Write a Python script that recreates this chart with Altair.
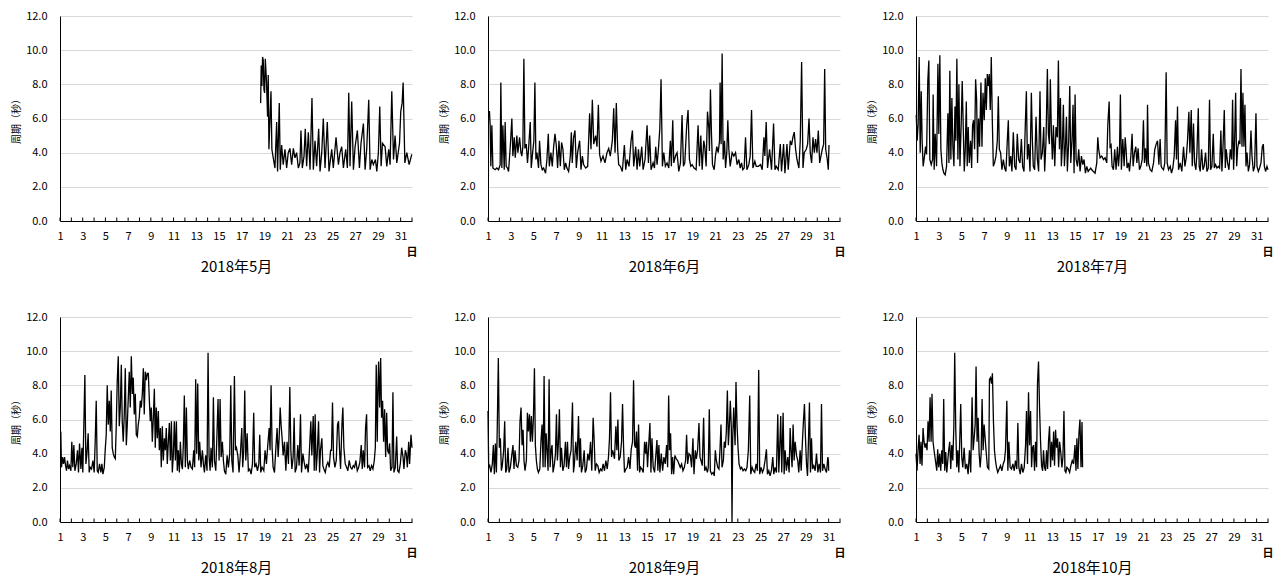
import altair as alt
import pandas as pd

FONT = "Noto Sans CJK JP"
titles = ["2018年5月", "2018年6月", "2018年7月", "2018年8月", "2018年9月", "2018年10月"]
y_ticks = [0, 2, 4, 6, 8, 10, 12]
x_labels = list(range(1, 32, 2))
tick_days = list(range(1, 33))
unit_label = "日"
y_title = "周期（秒）"

may_day = [18.67,18.72,18.78,18.84,18.90,18.96,19.02,19.08,19.19,19.28,
19.34,19.40,19.49,19.58,19.66,19.78,19.93,20.08,20.16,20.31,
20.40,20.52,20.66,20.81,20.96,21.10,21.25,21.40,21.55,21.69,
21.84,21.99,22.13,22.22,22.34,22.49,22.60,22.72,22.87,23.02,
23.19,23.31,23.46,23.60,23.78,23.90,24.05,24.19,24.34,24.54,
24.69,24.93,25.07,25.31,25.52,25.66,25.81,25.96,26.16,26.31,
26.43,26.54,26.69,26.84,26.99,27.19,27.37,27.51,27.72,27.87,
28.01,28.19,28.31,28.46,28.60,28.78,28.90,29.04,29.16,29.28,
29.40,29.63,29.78,29.95,30.07,30.22,30.37,30.51,30.66,30.90,
31.01,31.13,31.22,31.37,31.54,31.75,31.98]
may_val = [6.9,9.1,7.9,9.6,9.4,7.7,7.5,9.5,8.1,6.1,
8.55,4.2,5.9,7.6,4.2,3.7,3.1,5.8,2.9,6.9,
3.0,4.45,3.3,4.2,3.1,4.0,4.25,3.3,4.25,3.7,
4.0,3.1,3.4,5.3,3.1,3.8,5.4,3.2,5.2,3.0,
7.2,3.0,4.7,3.2,5.4,2.9,4.0,6.0,3.1,5.8,
2.9,4.2,3.1,4.9,3.3,4.0,4.35,3.1,4.2,3.1,
7.5,3.2,7.0,3.0,4.35,5.3,3.1,4.55,5.7,3.0,
4.2,7.1,3.0,3.6,3.3,3.6,2.9,4.0,6.7,3.2,
4.55,4.35,3.2,4.2,3.3,7.6,3.6,5.0,3.4,4.55,
6.4,6.9,8.1,3.4,4.0,3.3,3.9]

jun_day = [1.04,1.13,1.19,1.25,1.34,1.43,1.63,1.78,1.93,2.07,
2.13,2.22,2.31,2.43,2.51,2.60,2.72,2.81,2.96,3.10,
3.19,3.31,3.40,3.54,3.63,3.78,3.90,3.98,4.07,4.16,
4.25,4.37,4.48,4.57,4.72,4.81,4.93,5.04,5.13,5.22,
5.31,5.45,5.54,5.66,5.78,5.90,6.07,6.19,6.31,6.40,
6.54,6.66,6.78,6.90,7.01,7.13,7.25,7.37,7.48,7.60,
7.72,7.84,7.95,8.10,8.25,8.34,8.42,8.54,8.66,8.78,
8.89,9.07,9.19,9.31,9.42,9.60,9.78,9.95,10.07,10.19,
10.31,10.48,10.60,10.72,10.83,10.95,11.13,11.30,11.48,11.63,
11.77,11.95,12.07,12.19,12.30,12.42,12.51,12.66,12.83,13.01,
13.13,13.25,13.42,13.60,13.72,13.83,14.01,14.13,14.25,14.36,
14.54,14.66,14.83,15.01,15.13,15.24,15.36,15.54,15.66,15.77,
15.89,16.01,16.13,16.24,16.36,16.48,
16.62,16.77,16.92,17.06,17.15,17.27,17.36,17.51,17.65,17.80,
17.95,18.09,18.21,18.33,18.50,18.62,18.74,18.86,18.98,19.15,
19.33,19.50,19.62,19.74,19.86,20.00,20.09,20.21,20.33,20.45,
20.50,20.59,20.68,20.77,20.92,21.03,21.15,21.27,21.39,21.44,
21.53,21.62,21.71,21.83,21.92,22.03,22.12,22.21,22.33,22.50,
22.65,22.80,22.94,23.09,23.21,23.33,23.44,23.56,23.68,23.80,
23.97,24.09,24.21,24.33,24.50,24.62,24.80,25.00,25.15,25.30,
25.38,25.50,25.62,25.80,25.97,26.15,26.27,26.38,26.56,26.74,
26.85,27.03,27.15,27.33,27.44,27.62,27.74,27.85,27.97,28.09,
28.21,28.38,28.50,28.62,28.74,28.85,29.03,29.15,29.27,29.38,
29.50,29.62,29.74,29.85,29.97,30.09,30.21,30.32,30.44,30.56,
30.65,30.74,30.88,30.97,31.03]
jun_val = [6.4,6.4,5.6,3.2,5.6,3.1,3.0,3.1,3.0,3.3,
8.1,3.1,5.6,3.0,5.8,3.2,3.1,2.9,4.35,6.0,
3.8,4.9,3.7,5.0,4.0,4.9,4.0,3.8,4.35,9.5,
4.25,4.5,3.4,4.2,5.8,3.1,4.0,4.7,8.1,3.6,
4.0,3.1,4.7,3.3,3.0,3.1,2.8,3.6,5.1,3.2,
4.0,3.2,4.35,5.1,4.45,3.1,4.7,3.2,4.6,4.2,
3.0,3.4,3.1,2.9,3.8,5.2,3.4,4.9,5.3,3.1,
4.0,4.7,3.0,3.8,3.3,3.1,3.2,6.3,4.2,7.1,
4.5,5.0,4.35,6.8,3.9,3.5,3.8,3.4,4.0,4.25,
3.8,4.7,6.6,4.0,6.9,4.2,3.3,3.2,2.9,4.45,
3.0,3.6,3.2,4.7,5.3,3.2,4.35,3.0,4.2,3.2,
4.35,3.0,3.6,5.6,3.4,5.0,3.0,3.4,3.1,4.35,
3.3,4.2,5.4,8.3,3.2,4.0,
3.2,3.4,3.1,4.7,3.2,5.9,3.4,3.8,4.0,2.9,
3.4,6.2,3.2,3.4,5.6,6.5,3.6,3.2,3.3,3.1,
3.0,5.6,3.2,5.0,3.0,4.7,4.35,3.2,6.4,5.4,
4.1,7.7,5.1,3.3,3.0,3.8,4.35,4.0,4.7,8.1,
4.5,9.8,3.6,4.7,3.1,4.0,5.9,4.2,3.2,4.0,
3.8,4.0,3.3,3.6,3.1,3.4,3.0,3.1,4.9,3.0,
3.3,3.8,6.5,3.1,3.5,3.2,3.2,3.3,3.0,4.9,
3.8,5.8,3.1,4.2,3.0,5.7,3.0,3.2,3.0,4.5,
2.9,4.5,2.8,4.5,3.0,4.7,4.45,4.9,5.2,4.2,
3.6,3.1,4.7,9.3,3.1,4.0,4.2,4.5,6.0,4.0,
3.4,4.9,4.0,4.8,4.0,5.3,3.4,3.8,4.2,4.5,
8.9,4.2,3.6,3.0,4.45]

jul_day = [1.02,1.10,1.19,1.28,1.37,1.46,1.54,1.63,1.75,1.84,
1.93,2.04,2.13,2.22,2.34,2.46,2.51,2.60,2.69,2.81,
2.93,3.01,3.10,3.19,3.28,3.37,3.46,3.57,3.69,3.81,
3.90,3.98,4.07,4.16,4.25,4.34,4.43,4.51,4.60,4.69,
4.78,4.87,4.98,5.07,5.16,5.25,5.34,5.43,5.51,5.60,
5.69,5.81,5.90,5.98,6.07,6.16,6.25,6.34,6.42,6.51,
6.60,6.72,6.81,6.90,7.01,7.10,7.19,7.28,7.37,7.45,
7.54,7.63,7.72,7.81,7.92,8.04,8.16,8.25,8.34,8.45,
8.57,8.69,8.81,8.92,9.04,9.13,9.22,9.34,9.45,9.57,
9.69,9.81,9.92,10.04,10.16,10.28,10.39,10.51,10.63,10.72,
10.81,10.92,11.04,11.16,11.25,11.33,11.45,11.57,11.69,11.80,
11.92,12.01,12.13,12.25,12.33,12.45,12.57,12.66,12.75,12.83,
12.92,13.01,13.10,13.22,13.33,13.45,13.54,13.63,13.72,13.80,
13.89,13.98,14.07,14.16,14.25,14.33,14.45,14.54,14.63,14.74,
14.83,14.92,15.01,15.10,15.22,15.33,15.45,15.57,15.69,15.80,
15.92,16.04,16.16,16.27,16.39,
16.48,16.62,16.77,16.92,17.01,17.09,17.21,17.36,17.51,17.65,
17.80,17.89,18.01,18.09,18.18,18.27,18.39,18.50,18.62,18.74,
18.83,18.92,19.00,19.09,19.21,19.33,19.42,19.50,19.59,19.71,
19.80,19.92,20.03,20.12,20.24,20.36,20.45,20.56,20.68,20.80,
20.92,21.03,21.12,21.21,21.33,21.39,21.47,21.62,21.77,21.92,
22.03,22.15,22.27,22.39,22.50,22.59,22.68,22.80,22.91,23.03,
23.12,23.24,23.39,23.50,23.62,23.74,23.86,23.94,24.03,24.12,
24.27,24.41,24.56,24.68,24.80,24.91,25.03,25.12,25.24,25.33,
25.44,25.53,25.65,25.74,25.86,25.94,26.03,26.15,26.27,26.38,
26.50,26.62,26.74,26.85,26.94,27.06,27.18,27.27,27.38,27.50,
27.62,27.74,27.85,27.94,28.03,28.15,28.24,28.32,28.44,28.56,
28.68,28.80,28.88,28.97,29.06,29.15,29.24,29.32,29.44,29.53,
29.62,29.71,29.79,29.88,29.97,30.06,30.15,30.27,30.38,30.50,
30.59,30.71,30.82,30.94,31.03,31.15,31.26,31.38,31.50,31.59,
31.68,31.79,31.91,32.0]
jul_val = [6.2,4.7,5.7,9.6,4.0,7.6,4.7,3.2,3.8,4.35,
3.9,8.2,9.4,3.6,3.3,3.6,7.4,3.0,5.1,3.2,
9.2,5.1,9.7,4.2,3.4,3.0,2.8,2.7,3.2,6.3,
3.4,8.8,3.6,7.2,4.35,3.2,6.7,4.7,9.5,3.6,
8.0,3.2,5.7,8.2,5.5,2.9,4.2,7.0,3.2,5.5,
3.4,4.7,3.1,5.6,5.9,4.2,8.3,7.1,3.4,6.0,
4.35,8.1,4.35,7.5,5.9,8.35,6.5,8.6,7.9,8.6,
6.5,9.6,5.9,3.2,3.4,3.8,4.7,7.3,4.2,4.0,
3.0,3.6,3.1,2.9,4.7,5.9,3.2,3.8,2.9,5.2,
3.2,3.0,5.1,3.6,3.4,4.8,3.2,2.9,5.7,7.6,
3.6,4.5,2.9,7.5,4.7,3.2,3.0,6.1,3.6,2.9,
7.6,3.6,4.0,5.5,2.9,4.7,8.9,5.1,4.5,8.3,
5.3,3.6,5.6,3.2,5.5,4.9,9.4,4.2,7.2,3.2,
4.35,6.8,3.2,4.35,6.1,2.9,4.7,7.9,3.4,4.7,
6.8,2.8,7.4,3.6,3.2,4.2,2.9,3.8,3.3,3.6,
2.8,3.2,2.9,3.0,3.1,
3.0,2.9,2.8,3.4,4.9,4.2,3.7,3.8,3.6,3.7,
3.4,5.6,7.0,4.35,4.45,3.2,3.0,4.2,3.0,4.35,
3.2,4.0,7.4,3.0,4.8,3.2,4.9,4.2,3.1,3.4,
2.9,3.8,5.1,3.2,4.0,4.35,3.4,4.25,3.0,3.2,
3.6,5.9,3.4,4.25,3.2,6.8,3.4,3.0,2.9,3.4,
4.2,4.5,4.7,3.3,4.8,3.2,3.1,3.0,3.4,8.7,
3.4,3.0,3.2,2.8,3.1,3.8,5.9,3.6,6.7,3.0,
3.4,2.9,4.35,3.2,3.7,4.7,6.4,4.0,6.5,3.2,
5.7,3.4,3.0,4.0,6.6,3.2,2.9,4.2,3.0,3.2,
4.0,2.9,3.1,7.1,3.0,3.2,5.1,3.1,3.3,3.1,
3.2,3.1,5.3,2.9,4.2,6.5,3.1,4.2,3.4,3.0,
4.2,3.6,7.1,3.0,4.7,7.5,3.2,4.2,4.7,4.5,
8.9,4.35,7.5,4.35,6.8,3.2,4.0,2.9,3.3,5.3,
3.8,2.9,3.2,6.3,3.2,2.9,3.1,3.4,4.35,4.5,
3.2,2.9,3.2,3.0]

aug_day = [1.07,1.13,1.22,1.31,1.40,1.49,1.57,1.66,1.75,1.84,
1.96,2.04,2.13,2.22,2.31,2.43,2.54,2.63,2.72,2.84,
2.93,3.01,3.10,3.19,3.28,3.37,3.48,3.57,3.66,3.78,
3.90,4.01,4.10,4.19,4.28,4.37,4.48,4.60,4.69,4.78,
4.90,4.98,5.07,5.16,5.25,5.34,5.43,5.51,5.60,5.69,
5.78,5.87,5.95,6.04,6.13,6.22,6.31,6.40,6.48,6.57,
6.66,6.75,6.84,6.92,7.01,7.10,7.19,7.28,7.37,7.45,
7.54,7.63,7.72,7.81,7.89,7.98,8.07,8.16,8.25,8.34,
8.42,8.51,8.60,8.69,8.78,8.87,8.95,9.04,9.13,9.22,
9.31,9.39,9.48,9.57,9.66,9.75,9.84,9.92,10.01,10.10,
10.19,10.28,10.36,10.45,10.54,10.63,10.72,10.81,10.89,10.98,
11.07,11.16,11.25,11.33,11.42,11.51,11.60,11.69,11.78,11.86,
11.95,12.04,12.13,12.22,12.30,12.42,12.54,12.66,12.78,12.86,
12.95,13.04,13.13,13.22,13.30,13.42,13.54,13.63,13.72,13.83,
13.95,14.04,14.13,14.22,14.30,14.42,14.51,14.60,14.72,14.83,
14.92,15.01,15.10,15.19,15.30,15.39,15.48,15.60,15.72,15.83,
15.95,16.04,16.13,16.24,16.36,16.45,16.54,16.66,
16.77,16.89,17.01,17.09,17.18,17.27,17.36,17.48,17.59,17.71,
17.83,17.95,18.06,18.15,18.27,18.39,18.51,18.59,18.68,18.80,
18.95,19.06,19.18,19.30,19.42,19.50,19.59,19.68,19.77,19.89,
20.00,20.12,20.21,20.30,20.39,20.47,20.56,20.65,20.77,20.89,
21.00,21.12,21.24,21.33,21.42,21.53,21.62,21.71,21.83,21.94,
22.06,22.18,22.27,22.39,22.50,22.62,22.74,22.86,22.97,23.09,
23.18,23.30,23.39,23.47,23.56,23.65,23.77,23.86,23.94,24.06,
24.15,24.24,24.36,24.47,24.59,24.71,24.83,24.91,25.00,25.09,
25.21,25.33,25.44,25.53,25.62,25.71,25.83,25.91,26.00,26.12,
26.24,26.35,26.47,26.59,26.71,26.83,26.94,27.06,27.18,27.30,
27.41,27.53,27.62,27.71,27.82,27.91,28.00,28.09,28.21,28.32,
28.44,28.56,28.68,28.77,28.85,28.94,29.00,29.06,29.15,29.24,
29.32,29.41,29.50,29.59,29.68,29.77,29.85,29.94,30.03,30.12,
30.24,30.32,30.41,30.53,30.65,30.74,30.85,30.97,31.09,31.21,
31.29,31.41,31.50,31.59,31.71,31.79,31.91,32.0]
aug_val = [5.3,3.2,3.8,3.4,3.8,3.3,3.0,3.6,3.1,3.3,
3.0,4.7,3.2,4.5,3.0,3.4,4.2,2.9,4.6,3.1,
4.35,2.9,5.7,8.6,3.4,4.0,5.2,2.9,3.2,3.1,
3.6,2.9,4.7,7.1,3.0,2.9,3.4,2.9,3.4,2.8,
3.2,4.2,5.1,8.0,5.7,7.1,5.3,7.7,4.35,4.0,
3.8,3.7,5.5,8.2,9.7,5.6,6.7,9.2,5.9,4.7,
6.3,9.0,4.5,5.6,7.2,8.8,6.7,9.7,7.5,8.45,
6.3,7.5,5.1,5.0,5.7,6.1,7.1,6.7,7.5,9.0,
6.3,8.8,8.3,8.7,8.7,7.1,5.9,6.7,4.7,6.1,
7.8,4.35,6.7,4.9,6.5,4.2,5.5,3.2,5.6,3.6,
4.9,4.2,5.5,3.4,4.7,5.8,3.6,5.9,2.9,3.9,
5.9,3.6,5.9,3.0,4.2,2.9,4.7,3.4,3.1,4.5,
7.4,3.2,6.7,3.6,3.1,3.6,3.2,3.1,4.2,3.2,
8.35,4.0,8.1,3.6,4.7,3.2,4.2,3.4,2.9,3.9,
3.0,9.9,3.8,3.0,4.35,3.2,7.3,3.6,3.0,5.3,
7.2,3.6,7.2,3.8,4.7,3.6,3.0,2.8,3.9,3.2,
4.0,8.0,3.6,2.9,8.55,4.2,4.35,3.9,
2.9,4.0,5.5,3.2,4.2,7.7,3.6,5.2,3.0,3.1,
2.8,3.4,6.4,3.2,3.4,3.0,3.4,5.1,2.9,3.2,
3.0,4.2,3.4,4.5,5.5,4.2,8.0,4.35,3.2,2.9,
4.2,5.5,3.8,4.9,6.7,5.7,4.9,3.9,4.7,3.0,
4.7,3.4,7.9,4.2,3.1,3.8,6.1,2.9,3.2,4.5,
3.3,6.3,2.9,4.0,3.5,3.1,3.4,2.9,4.2,5.9,
3.9,6.2,3.0,6.3,3.0,3.9,5.9,2.9,4.2,4.9,
3.3,3.1,2.9,3.3,3.5,3.2,4.2,4.2,7.0,3.8,
3.2,3.6,5.7,5.9,4.2,3.1,5.7,6.7,4.35,3.4,
3.2,3.0,3.6,3.2,3.1,3.3,3.2,3.6,3.0,3.2,
3.5,4.5,3.1,4.2,3.2,5.5,6.3,3.2,3.3,3.0,
3.3,3.1,3.6,4.35,9.2,4.7,7.7,9.4,6.7,9.6,
6.1,7.1,4.7,6.6,3.8,6.4,4.2,4.0,4.6,3.0,
3.2,7.6,2.9,3.2,5.0,3.0,2.9,3.4,4.35,3.8,
3.1,4.2,4.0,3.2,4.7,3.4,5.1,4.35]

sep_day = [1.0,1.06,1.15,1.26,1.38,1.47,1.56,1.65,1.74,1.82,
1.91,2.00,2.09,2.18,2.26,2.38,2.47,2.56,2.65,2.76,
2.85,2.97,3.09,3.20,3.29,3.38,3.50,3.62,3.73,3.82,
3.91,4.00,4.09,4.17,4.26,4.38,4.47,4.56,4.65,4.73,
4.82,4.91,5.00,5.09,5.17,5.26,5.35,5.44,5.56,5.67,
5.76,5.85,5.94,6.03,6.12,6.20,6.29,6.38,6.47,6.56,
6.64,6.73,6.85,6.94,7.03,7.11,7.20,7.29,7.38,7.47,
7.59,7.70,7.82,7.91,8.00,8.09,8.20,8.32,8.44,8.53,
8.61,8.73,8.85,8.97,9.06,9.14,9.23,9.35,9.47,9.56,
9.67,9.79,9.91,10.03,10.14,10.26,10.35,10.44,10.55,10.67,
10.79,10.91,11.03,11.14,11.26,11.38,11.50,11.61,11.70,11.79,
11.88,11.97,12.05,12.14,12.26,12.35,12.44,12.52,12.64,12.76,
12.85,12.94,13.02,13.14,13.26,13.38,13.50,13.61,13.73,13.82,
13.91,14.00,14.08,14.17,14.26,14.35,14.44,14.55,14.67,14.79,
14.88,14.96,15.05,15.14,15.26,15.35,15.44,15.55,15.67,15.79,
15.88,15.96,16.05,16.14,16.26,16.38,16.49,16.61,
16.73,16.82,16.91,16.99,17.08,17.17,17.26,17.35,17.46,17.58,
17.70,17.82,17.93,18.05,18.17,18.29,18.40,18.49,18.58,18.70,
18.82,18.93,19.05,19.14,19.26,19.35,19.46,19.58,19.67,19.76,
19.87,19.99,20.08,20.20,20.32,20.40,20.49,20.58,20.70,20.82,
20.93,21.02,21.11,21.23,21.34,21.43,21.52,21.61,21.73,21.81,
21.90,21.99,22.08,22.17,22.26,22.34,22.43,22.49,22.55,22.64,
22.76,22.84,22.93,23.02,23.11,23.23,23.34,23.46,23.58,23.70,
23.81,23.93,24.05,24.14,24.26,24.37,24.49,24.61,24.73,24.84,
24.93,25.05,25.17,25.28,25.40,25.52,25.61,25.73,25.84,25.96,
26.08,26.17,26.28,26.40,26.52,26.61,26.70,26.78,26.87,26.99,
27.08,27.17,27.28,27.40,27.52,27.61,27.69,27.78,27.87,27.96,
28.05,28.17,28.28,28.37,28.49,28.58,28.69,28.78,28.87,28.96,
29.05,29.14,29.22,29.31,29.40,29.49,29.58,29.69,29.81,29.93,
30.05,30.16,30.28,30.37,30.46,30.58,30.69,30.81,30.93,30.98,
31.0]
sep_val = [6.5,3.2,3.3,2.9,3.4,4.5,2.8,4.6,2.9,5.7,
9.6,4.35,4.9,3.0,3.3,4.2,5.9,2.9,3.1,4.35,
2.9,3.2,3.9,4.5,3.1,4.2,3.3,3.2,3.6,5.9,
6.7,4.5,5.4,3.6,3.0,3.6,6.4,5.3,6.3,4.7,
6.2,4.7,6.1,9.0,4.5,3.6,3.1,2.9,3.1,4.8,
5.7,3.2,8.55,3.2,5.2,4.2,3.0,8.35,3.2,4.2,
4.5,2.9,3.4,4.0,6.3,3.6,4.6,6.6,3.2,4.35,
3.0,3.3,4.7,3.2,4.7,3.1,3.8,4.2,7.0,2.9,
3.4,4.7,3.6,6.2,3.2,4.9,2.9,3.3,4.2,2.9,
3.1,4.0,3.6,4.7,3.0,6.1,4.8,3.0,3.4,3.3,
2.9,3.1,3.0,3.4,3.0,3.6,3.1,3.8,4.9,7.6,
3.8,4.2,4.0,3.7,5.6,4.2,6.0,3.6,3.8,4.7,
6.9,4.35,2.9,3.1,3.2,3.8,3.1,4.25,4.7,8.3,
4.5,4.35,5.3,3.0,5.7,2.9,3.2,3.1,2.9,4.7,
4.0,4.7,3.2,4.35,5.8,2.9,4.9,3.2,2.9,4.0,
4.8,3.0,4.5,2.9,4.0,3.0,3.8,3.4,
4.5,3.2,7.4,4.2,5.2,2.8,3.8,2.8,3.9,3.7,
3.6,3.4,3.2,3.4,3.0,3.2,3.6,5.1,3.4,4.0,
3.9,3.2,4.9,2.8,4.2,3.7,4.2,5.8,3.8,3.6,
3.3,6.1,3.0,3.2,2.9,3.2,6.6,3.0,2.8,2.9,
2.7,4.2,3.6,3.2,3.1,4.2,5.7,3.2,3.6,4.7,
4.35,5.3,7.7,4.5,5.7,7.1,5.5,0.0,4.9,6.7,
4.5,8.2,5.7,4.35,3.4,3.1,3.2,3.0,3.1,3.0,
3.2,4.2,7.4,2.8,3.2,3.0,2.9,3.4,3.0,8.9,
2.8,3.2,2.9,3.1,3.6,4.25,2.8,3.0,2.7,3.0,
3.8,2.8,3.2,2.9,6.3,2.9,4.5,6.2,2.9,6.4,
2.8,4.2,3.0,3.8,2.9,5.5,4.2,3.2,5.7,3.6,
4.7,3.9,3.6,2.9,4.2,3.0,4.7,5.9,6.9,4.9,
3.4,2.7,4.7,7.0,2.9,4.9,3.1,3.3,3.0,4.0,
2.9,3.4,2.9,6.9,3.0,3.4,3.1,2.9,3.8,3.6,
3.0]

oct_day = [1.00,1.09,1.18,1.27,1.36,1.44,1.53,1.62,1.71,1.80,
1.88,1.97,2.06,2.15,2.24,2.33,2.41,2.50,2.59,2.71,
2.83,2.91,3.00,3.09,3.18,3.27,3.36,3.44,3.53,3.62,
3.71,3.80,3.88,3.97,4.06,4.15,4.24,4.33,4.41,4.50,
4.59,4.68,4.77,4.85,4.94,5.03,5.12,5.24,5.35,5.47,
5.59,5.71,5.82,5.94,6.03,6.12,6.21,6.29,6.38,6.47,
6.56,6.65,6.74,6.82,6.91,7.00,7.09,7.18,7.29,7.41,
7.47,7.56,7.65,7.73,7.82,7.91,8.00,8.09,8.20,8.32,
8.44,8.56,8.68,8.79,8.88,9.00,9.09,9.18,9.29,9.41,
9.53,9.65,9.76,9.88,9.97,10.06,10.18,10.29,10.41,10.53,
10.65,10.73,10.82,10.91,11.00,11.09,11.18,11.26,11.35,11.44,
11.53,11.62,11.70,11.79,11.88,11.97,12.06,12.15,12.23,12.32,
12.41,12.50,12.59,12.67,12.76,12.85,12.94,13.03,13.12,13.20,
13.29,13.38,13.47,13.56,13.65,13.76,13.85,13.94,14.03,14.12,
14.20,14.29,14.41,14.53,14.64,14.76,14.88,15.00,15.09,15.17,
15.26,15.35,15.44,15.53,15.62,15.67]
oct_val = [4.0,3.0,4.2,5.1,3.4,4.7,3.3,5.5,4.7,4.35,
4.6,4.2,5.9,4.7,7.3,4.7,7.5,4.7,4.2,3.6,
3.0,4.25,3.2,4.0,3.0,4.2,3.4,7.2,3.0,4.1,
2.9,3.6,4.2,4.7,3.1,4.5,3.6,5.5,9.9,5.5,
3.2,4.2,2.9,4.7,6.9,3.8,3.2,4.35,3.1,3.4,
2.8,4.2,2.9,7.3,4.2,4.9,5.7,9.1,4.7,6.1,
4.0,3.2,4.0,7.2,4.2,5.7,4.9,4.1,3.2,3.1,
8.35,8.45,8.1,8.7,5.9,4.2,3.6,3.2,2.9,3.1,
3.3,3.0,3.4,3.6,4.2,7.1,3.0,4.7,3.2,3.1,
3.4,3.0,3.6,3.1,5.8,3.2,2.8,3.4,2.9,3.2,
4.5,6.5,3.4,7.6,4.5,6.5,3.2,4.35,4.5,3.0,
4.7,3.2,8.1,9.4,6.7,4.7,3.3,3.0,4.2,3.2,
3.0,4.2,3.1,4.7,5.6,3.2,4.7,3.6,5.3,3.3,
5.4,4.35,4.9,3.2,4.7,4.0,3.2,3.8,6.5,3.0,
2.9,3.2,3.1,2.9,3.3,3.6,3.4,4.5,3.0,4.9,
3.1,5.2,6.0,3.2,5.85,3.2]

series = [(may_day, may_val), (jun_day, jun_val), (jul_day, jul_val),
          (aug_day, aug_val), (sep_day, sep_val), (oct_day, oct_val)]

W, H = 352, 205


def x_axis(title):
    return alt.Axis(values=x_labels, format="d", ticks=False, grid=False,
                    labelPadding=9, labelFontSize=11, labelFlush=False,
                    labelOverlap=False, labelSeparation=0, labelBound=False,
                    title=title, titleFontSize=15, titleFontWeight="normal",
                    titlePadding=18, domainColor="black", labelColor="black",
                    titleColor="black")


def panel(days, vals, title):
    n = min(len(days), len(vals))
    df = pd.DataFrame({"day": days[:n], "period": vals[:n]})
    xscale = alt.Scale(domain=[1, 32], nice=False, zero=False)
    line = alt.Chart(df).mark_line(color="black", strokeWidth=1.3).encode(
        x=alt.X("day:Q", scale=xscale, axis=x_axis(title)),
        y=alt.Y("period:Q", scale=alt.Scale(domain=[0, 12], nice=False),
                axis=alt.Axis(values=y_ticks, format=".1f", ticks=False, grid=True,
                              gridColor="#d9d9d9", labelPadding=13, labelFontSize=11,
                              title=y_title, titleFontSize=10, titleFontWeight="normal",
                              titlePadding=4, domainColor="black", labelColor="black",
                              titleColor="black")),
    )
    ticks = alt.Chart(pd.DataFrame({"day": tick_days})).mark_rule(
        color="black", strokeWidth=1).encode(
        x=alt.X("day:Q", scale=xscale, axis=x_axis(title)),
        y=alt.value(H - 3.5), y2=alt.value(H))
    unit = alt.Chart(pd.DataFrame({"t": [unit_label]})).mark_text(
        fontSize=11, font=FONT, color="black", fontWeight="bold").encode(
        text="t:N", x=alt.value(W), y=alt.value(H + 32))
    return alt.layer(line, ticks, unit).properties(width=W, height=H)


panels = [panel(d, v, t) for (d, v), t in zip(series, titles)]
row1 = alt.hconcat(*panels[:3], spacing=21)
row2 = alt.hconcat(*panels[3:], spacing=21)
chart = alt.vconcat(row1, row2, spacing=37).properties(
    padding={"left": 3, "top": 2, "right": 0, "bottom": 0}
).configure_view(stroke=None).configure_axis(
    labelFont=FONT, titleFont=FONT
)

chart.save("out.html", embed_options={"renderer": "svg", "actions": False})
